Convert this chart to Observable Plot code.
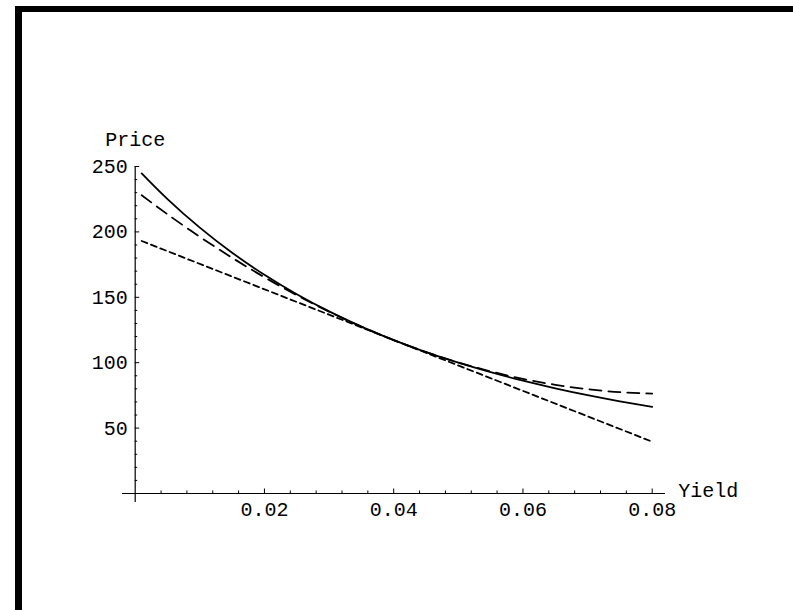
<!DOCTYPE html>
<html>
<head>
<meta charset="utf-8">
<script src="https://cdn.jsdelivr.net/npm/d3@7"></script>
<script src="https://cdn.jsdelivr.net/npm/@observablehq/plot@0.6"></script>
<style>
html, body { margin: 0; padding: 0; background: #fff; overflow: hidden; }
#chart { position: absolute; left: 0; top: 0; }
#frame { position: absolute; left: 15px; top: 6px; width: 800px; height: 700px;
  border-top: 6px solid #000; border-left: 7px solid #000; pointer-events: none; }
</style>
</head>
<body>
<div id="chart"></div>
<div id="frame"></div>
<script>
// Yield values sampled along the curves
const yields = [0.001, 0.005, 0.01, 0.015, 0.02, 0.025, 0.03, 0.035, 0.04,
                0.045, 0.05, 0.055, 0.06, 0.065, 0.07, 0.075, 0.08];
// Actual bond price (solid)
const price = [244.75, 225.07, 203.23, 184.06, 167.19, 152.33, 139.20, 127.59, 117.29,
               108.14, 100.00, 92.73, 86.24, 80.41, 75.18, 70.47, 66.23];
// Duration + convexity approximation (long dashes)
const convexity = [228.01, 213.44, 196.25, 180.22, 165.33, 151.60, 139.01, 127.58, 117.29,
                   108.16, 100.17, 93.34, 87.65, 83.12, 79.73, 77.50, 76.41];
// Duration (linear) approximation (short dashes)
const durationYields = [0.001, 0.08];
const duration = [193.03, 39.61];

// Axis ticks
const xMajor = [0.02, 0.04, 0.06, 0.08];
const xTickLabels = ["0.02", "0.04", "0.06", "0.08"];
const xMinor = [0.004, 0.008, 0.012, 0.016, 0.024, 0.028, 0.032, 0.036,
                0.044, 0.048, 0.052, 0.056, 0.064, 0.068, 0.072, 0.076];
const yMajor = [50, 100, 150, 200, 250];
const yTickLabels = ["50", "100", "150", "200", "250"];
const yMinor = [10, 20, 30, 40, 60, 70, 80, 90, 110, 120, 130, 140,
                160, 170, 180, 190, 210, 220, 230, 240];
const xLabel = "Yield";
const yLabel = "Price";

const FONT = "'Liberation Mono', 'Courier New', monospace";
const FS = 20;

const chart = Plot.plot({
  width: 793,
  height: 610,
  marginLeft: 134.7,
  marginRight: 141.3,
  marginTop: 166,
  marginBottom: 117,
  style: { fontFamily: FONT, fontSize: FS + "px", background: "transparent", color: "#000" },
  x: { domain: [0, 0.08], axis: null },
  y: { domain: [0, 250], axis: null },
  marks: [
    // axes lines
    Plot.ruleX([0], { x: d => d, stroke: "#000", strokeWidth: 1.2, insetBottom: -9 }),
    Plot.ruleY([0], { y: d => d, stroke: "#000", strokeWidth: 1.2, insetLeft: -12.7, insetRight: -13.3 }),
    // ticks (pointing inward)
    Plot.ruleY(yMajor, { y: d => d, x1: 0, x2: 0, insetRight: -4.5, stroke: "#000", strokeWidth: 1 }),
    Plot.ruleY(yMinor, { y: d => d, x1: 0, x2: 0, insetRight: -2.5, stroke: "#000", strokeWidth: 1 }),
    Plot.ruleX(xMajor, { x: d => d, y1: 0, y2: 0, insetTop: -4.5, stroke: "#000", strokeWidth: 1 }),
    Plot.ruleX(xMinor, { x: d => d, y1: 0, y2: 0, insetTop: -2.5, stroke: "#000", strokeWidth: 1 }),
    // tick labels
    Plot.text(yMajor, { y: d => d, text: (d, i) => yTickLabels[i], frameAnchor: "left",
      textAnchor: "end", dx: -7.5, fontSize: FS, fontFamily: FONT, fill: "#000" }),
    Plot.text(xMajor, { x: d => d, text: (d, i) => xTickLabels[i], frameAnchor: "bottom",
      lineAnchor: "top", dy: 8, fontSize: FS, fontFamily: FONT, fill: "#000" }),
    // axis labels
    Plot.text([yLabel], { text: d => d, frameAnchor: "top-left", textAnchor: "middle",
      dy: -35, fontSize: FS, fontFamily: FONT, fill: "#000" }),
    Plot.text([xLabel], { text: d => d, frameAnchor: "bottom-right", textAnchor: "start",
      dx: 26, dy: 3, fontSize: FS, fontFamily: FONT, fill: "#000" }),
    // curves
    Plot.line(durationYields, { x: durationYields, y: duration, stroke: "#000",
      strokeWidth: 1.8, strokeDasharray: "6,4" }),
    Plot.line(yields, { x: yields, y: convexity, stroke: "#000", strokeWidth: 1.8,
      strokeDasharray: "12,7", curve: "natural" }),
    Plot.line(yields, { x: yields, y: price, stroke: "#000", strokeWidth: 1.8, curve: "natural" })
  ]
});
document.getElementById("chart").appendChild(chart);
</script>
</body>
</html>
